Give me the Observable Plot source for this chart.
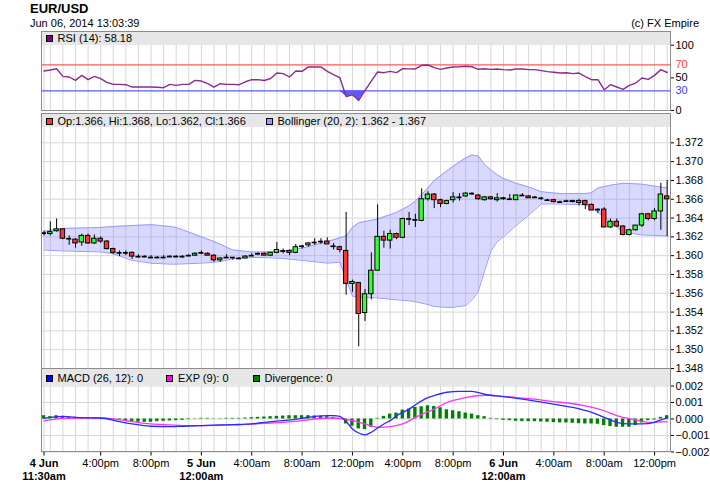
<!DOCTYPE html>
<html><head><meta charset="utf-8">
<script src="https://cdn.jsdelivr.net/npm/d3@7"></script>
<script src="https://cdn.jsdelivr.net/npm/@observablehq/plot@0.6"></script>
<style>
body{margin:0;background:#fff;}
#root{position:relative;width:710px;height:487px;overflow:hidden;font-family:"Liberation Sans",Arial,sans-serif;color:#000;background:#fff;}
#root svg{position:absolute;left:0;top:0;z-index:1;}
.hdr{position:absolute;background:#e6e6e6;z-index:0;}
.panel{position:absolute;border:1.5px solid #8c8c8c;box-sizing:border-box;z-index:2;}
.txt{position:absolute;white-space:nowrap;z-index:3;font-size:11px;line-height:13px;}
.sw{display:inline-block;width:5px;height:5px;border:1px solid #000;margin-right:5px;}
</style></head><body><div id="root"></div>
<script>
// ---------- data ----------
const openP = [1.3624,1.3623,1.3626,1.3628,1.3618,1.3617,1.3614,1.3621,1.3613,1.3618,
1.3615,1.3607,1.3603,1.3603,1.3603,1.3599,1.3599,1.3598,1.3598,1.3598,
1.3599,1.3599,1.3599,1.3600,1.3600,1.3603,1.3602,1.3600,1.3595,1.3598,
1.3598,1.3597,1.3597,1.3600,1.3602,1.3602,1.3600,1.3603,1.3605,1.3605,
1.3603,1.3610,1.3611,1.3614,1.3615,1.3615,1.3610,1.3609,1.3605,1.3570,
1.3571,1.3539,1.3559,1.3584,1.3620,1.3616,1.3623,1.3619,1.3639,1.3638,
1.3637,1.3660,1.3665,1.3659,1.3655,1.3659,1.3662,1.3663,1.3666,1.3664,
1.3659,1.3662,1.3659,1.3661,1.3660,1.3659,1.3664,1.3663,1.3662,1.3661,
1.3659,1.3659,1.3657,1.3658,1.3658,1.3656,1.3658,1.3654,1.3649,1.3649,
1.3630,1.3636,1.3631,1.3622,1.3627,1.3632,1.3644,1.3639,1.3647,1.3663];
const highP = [1.3626,1.3636,1.3639,1.3628,1.3621,1.3618,1.3623,1.3623,1.3622,1.3620,
1.3616,1.3608,1.3605,1.3605,1.3604,1.3601,1.3600,1.3600,1.3599,1.3600,
1.3600,1.3600,1.3600,1.3601,1.3603,1.3605,1.3603,1.3601,1.3598,1.3601,
1.3598,1.3598,1.3600,1.3602,1.3603,1.3603,1.3603,1.3614,1.3607,1.3606,
1.3612,1.3611,1.3614,1.3618,1.3618,1.3619,1.3613,1.3610,1.3646,1.3574,
1.3571,1.3564,1.3603,1.3654,1.3626,1.3627,1.3624,1.3640,1.3646,1.3644,
1.3671,1.3668,1.3666,1.3660,1.3659,1.3667,1.3666,1.3667,1.3667,1.3665,
1.3663,1.3663,1.3666,1.3662,1.3665,1.3664,1.3666,1.3664,1.3663,1.3662,
1.3660,1.3660,1.3658,1.3659,1.3659,1.3660,1.3659,1.3655,1.3650,1.3651,
1.3639,1.3639,1.3632,1.3628,1.3632,1.3645,1.3645,1.3650,1.3677,1.3680];
const lowP = [1.3621,1.3621,1.3625,1.3617,1.3611,1.3608,1.3610,1.3612,1.3612,1.3613,
1.3606,1.3601,1.3599,1.3600,1.3596,1.3597,1.3598,1.3597,1.3597,1.3597,
1.3598,1.3598,1.3597,1.3599,1.3599,1.3601,1.3600,1.3593,1.3593,1.3597,
1.3595,1.3596,1.3597,1.3599,1.3600,1.3600,1.3599,1.3602,1.3602,1.3600,
1.3602,1.3607,1.3609,1.3611,1.3612,1.3612,1.3606,1.3603,1.3558,1.3561,
1.3503,1.3530,1.3553,1.3584,1.3608,1.3607,1.3617,1.3618,1.3632,1.3630,
1.3636,1.3658,1.3650,1.3651,1.3654,1.3656,1.3658,1.3662,1.3664,1.3659,
1.3658,1.3659,1.3657,1.3659,1.3659,1.3659,1.3663,1.3661,1.3661,1.3659,
1.3658,1.3656,1.3656,1.3657,1.3656,1.3653,1.3649,1.3648,1.3645,1.3630,
1.3629,1.3630,1.3621,1.3621,1.3626,1.3630,1.3637,1.3637,1.3627,1.3620];
const closeP = [1.3624,1.3625,1.3628,1.3618,1.3618,1.3613,1.3621,1.3613,1.3618,1.3615,
1.3607,1.3603,1.3603,1.3603,1.3599,1.3599,1.3599,1.3598,1.3598,1.3598,
1.3599,1.3599,1.3599,1.3600,1.3602,1.3603,1.3600,1.3595,1.3597,1.3598,
1.3598,1.3597,1.3599,1.3600,1.3602,1.3600,1.3603,1.3606,1.3605,1.3603,
1.3609,1.3610,1.3613,1.3614,1.3615,1.3612,1.3610,1.3606,1.3570,1.3572,
1.3538,1.3559,1.3584,1.3620,1.3616,1.3623,1.3619,1.3639,1.3639,1.3638,
1.3660,1.3665,1.3659,1.3655,1.3658,1.3662,1.3662,1.3666,1.3666,1.3660,
1.3662,1.3660,1.3661,1.3660,1.3660,1.3664,1.3664,1.3661,1.3662,1.3661,
1.3659,1.3657,1.3657,1.3658,1.3657,1.3658,1.3654,1.3648,1.3649,1.3630,
1.3636,1.3631,1.3622,1.3627,1.3632,1.3644,1.3639,1.3647,1.3665,1.3660];

// Bollinger (20,2) band read at candle indices
const bandIdx   = [0,3,9,11,14,17,20,21,25,27,29,30,33,35,38,41,45,47,48,49,50,53,56,58,59,61,62,64,65,67,68,69,70,71,72,73,75,77,79,82,86,87,88,90,92,95,99];
const bandUpper = [1.3626,1.3629,1.3630,1.3631,1.3632,1.3633,1.3631,1.3630,1.3620,1.3615,1.3609,1.3606,1.3604,1.3604,1.3605,1.3608,1.3615,1.3619,1.3621,1.3630,1.3635,1.3639,1.3646,1.3653,1.3658,1.3672,1.3680,1.3690,1.3695,1.3704,1.3707,1.3706,1.3697,1.3691,1.3686,1.3682,1.3677,1.3673,1.3668,1.3666,1.3666,1.3667,1.3672,1.3675,1.3677,1.3676,1.3672];
const bandLower = [1.3606,1.3605,1.3604,1.3602,1.3595,1.3592,1.3591,1.3591,1.3592,1.3593,1.3595,1.3597,1.3598,1.3598,1.3597,1.3595,1.3592,1.3593,1.3575,1.3557,1.3556,1.3555,1.3553,1.3552,1.3551,1.3548,1.3546,1.3545,1.3545,1.3547,1.3553,1.3562,1.3584,1.3605,1.3615,1.3620,1.3632,1.3643,1.3655,1.3655,1.3654,1.3651,1.3646,1.3636,1.3625,1.3622,1.3621];

// RSI (14), one value per candle
const rsiVals = [60.5,62,64,52.3,51.3,46.2,53.8,47.2,52.3,48.7,
43,40,40,39.5,35.9,35.9,35.9,35.9,35.5,34.9,
40,38.5,40,40,46.2,45.1,41,35.9,41,40,
40,39.5,44,47.2,47.2,46,49,57.4,56.4,51.3,
60.5,60,66.7,66.7,66.7,60,55,50.3,21.5,24.1,
15.4,30.8,45,59,57.9,60,58,64.1,63.8,63.6,
69.2,69.7,65.6,63,65,66.7,67,67.7,67,63.1,
64,63,63.5,62.6,62,63.6,63.6,62.6,62.6,61,
59.5,58.5,57.4,57.9,56.4,57.4,52,47.2,47.2,31.8,
39.5,36,32.3,38.5,42,49.7,47.7,53.8,62.6,58.18];

// MACD (26,12) and EXP (9) lines read at candle indices
const macdIdx = [0,3,6,9,12,14,17,20,22,25,28,30,33,35,38,41,43,45,46,47,48,49,50,51,52,53,54,55,56,57,58,59,60,61,62,64,66,68,70,73,76,80,84,87,89,91,93,95,97,98,99];
const macdVal = [0.00004,0.00016,0.00008,0.00006,-0.00016,-0.0003,-0.00044,-0.00046,-0.00044,-0.0004,-0.00036,-0.00034,-0.0003,-0.0002,-0.0001,0.00004,0.00016,0.0002,0.0002,0.00016,-0.00015,-0.0006,-0.00085,-0.00096,-0.0008,-0.00055,-0.0003,-0.0001,0.0002,0.0004,0.0006,0.00085,0.0011,0.0013,0.00142,0.00162,0.00168,0.00168,0.0015,0.00136,0.0012,0.00096,0.0007,0.0004,0.0001,-0.0002,-0.0003,-0.0003,-0.0002,-0.00005,0.00006];
const expIdx = [0,3,6,9,12,14,17,20,22,25,30,35,38,41,43,46,49,51,53,55,57,59,62,64,67,70,72,75,78,80,86,89,91,94,96,99];
const expVal = [-0.00012,0.00004,0.00006,0.00006,-0.00004,-0.00016,-0.0003,-0.00036,-0.0004,-0.0004,-0.00036,-0.00026,-0.0002,-0.0001,0,0.00006,-0.0001,-0.0003,-0.0005,-0.00046,-0.0003,0.0001,0.0006,0.001,0.0013,0.00144,0.0014,0.0013,0.0012,0.0011,0.0008,0.0005,0.0002,-0.00006,-0.0002,-0.00016];
// Divergence histogram, one value per candle
const divVals = [0.0002,0.00014,0.0002,0.00016,0.0001,0.0001,0.00008,0.00006,0.00006,0.00004,
0.00002,-0.00004,-0.0001,-0.00014,-0.00016,-0.0002,-0.0002,-0.0002,-0.00016,-0.00014,
-0.00012,-0.0001,-0.00008,-0.00004,0.00002,0.00004,0.00004,0.00002,0.00002,0.00004,
0.00004,0.00004,0.00006,0.00008,0.0001,0.00012,0.00014,0.00016,0.00018,0.0002,
0.0002,0.0002,0.0002,0.00018,0.00016,0.00014,0.0001,0.00004,-0.0003,-0.00044,
-0.0006,-0.00064,-0.0005,0.00004,0.00016,0.0003,0.00036,0.00054,0.0006,0.0007,
0.00074,0.0008,0.00076,0.00068,0.00056,0.0005,0.00044,0.00036,0.0003,0.0002,
0.00014,0.00004,-0.00004,-0.00008,-0.0001,-0.00014,-0.00016,-0.00016,-0.00016,-0.00018,
-0.0002,-0.00022,-0.00024,-0.00024,-0.00026,-0.00028,-0.0003,-0.0003,-0.00032,-0.0004,
-0.00046,-0.0005,-0.0005,-0.0005,-0.0004,-0.00024,-0.0001,-0.00006,0.0001,0.0002];

const priceTicks = [1.348,1.350,1.352,1.354,1.356,1.358,1.360,1.362,1.364,1.366,1.368,1.370,1.372];
const macdTicks = [-0.002,-0.001,0,0.001,0.002];
const rsiTicks = [0,50,100];
const xTickTimes = [Date.UTC(2014,5,4,11,30),Date.UTC(2014,5,4,16),Date.UTC(2014,5,4,20),Date.UTC(2014,5,5,0),Date.UTC(2014,5,5,4),Date.UTC(2014,5,5,8),Date.UTC(2014,5,5,12),Date.UTC(2014,5,5,16),Date.UTC(2014,5,5,20),Date.UTC(2014,5,6,0),Date.UTC(2014,5,6,4),Date.UTC(2014,5,6,8),Date.UTC(2014,5,6,12)];
const xTickLabels = ["4 Jun\n11:30am","4:00pm","8:00pm","5 Jun\n12:00am","4:00am","8:00am","12:00pm","4:00pm","8:00pm","6 Jun\n12:00am","4:00am","8:00am","12:00pm"];
const xTickBold = [true,false,false,true,false,false,false,false,false,true,false,false,false];

// ---------- build ----------
const START = Date.UTC(2014,5,4,11,30), STEP = 30*60000, MIN = 60000;
const tOf = i => new Date(START + i*STEP);
const candles = openP.map((o,i)=>({t:tOf(i), o, h:highP[i], l:lowP[i], c:closeP[i]}));
const band = bandIdx.map((k,j)=>({t:tOf(k), up:bandUpper[j], lo:bandLower[j]}));
const rsi = rsiVals.map((v,i)=>({t:tOf(i), v}));
const macd = macdIdx.map((k,j)=>({t:tOf(k), v:macdVal[j]}));
const exp = expIdx.map((k,j)=>({t:tOf(k), v:expVal[j]}));
const div = divVals.map((v,i)=>({t:tOf(i), v}));
const xTicks = xTickTimes.map((t,i)=>({t:new Date(t), s:xTickLabels[i], b:xTickBold[i]}));
const gridT = [new Date(START), ...d3.utcHour.range(new Date(Date.UTC(2014,5,4,12)), new Date(Date.UTC(2014,5,6,13,30)))];

const xScale = {type:"utc", domain:[new Date(Date.UTC(2014,5,4,11,18)), new Date(Date.UTC(2014,5,6,13,16))], label:null};
const FONT = "background:transparent;overflow:visible;font-family:'Liberation Sans',Arial,sans-serif;font-size:11px;";
const common = {width:710, height:487, marginLeft:41, marginRight:40, style:FONT};
const GRID = "#d7d7d7";
const yAx = (ticks, fmt, extra={}) => Plot.axisY({ticks, anchor:"right", tickSize:3, tickPadding:2, tickFormat:fmt, fontSize:11, ...extra});

const root = document.getElementById("root");
function div_(cls, css, html){const d=document.createElement("div");d.className=cls;d.style.cssText=css;if(html!==undefined)d.innerHTML=html;root.appendChild(d);return d;}

// header bands (under svg)
div_("hdr","left:41px;top:31px;width:629px;height:13.5px;");
div_("hdr","left:41px;top:113px;width:629px;height:14px;");
div_("hdr","left:41px;top:368px;width:629px;height:17px;");

// RSI panel
const rsiPlot = Plot.plot({...common, marginTop:44.7, marginBottom:377,
  x:{...xScale, axis:null}, y:{domain:[0,100], label:null},
  marks:[
    Plot.ruleX(gridT,{stroke:GRID}),
    Plot.areaY(rsi,{x:"t", y1:30, y2:d=>Math.min(d.v,30), fill:"#5a5aff"}),
    Plot.ruleY([70],{stroke:"#ff5a5a", strokeWidth:1.2}),
    Plot.ruleY([30],{stroke:"#5a5aff", strokeWidth:1.2}),
    Plot.line(rsi,{x:"t", y:"v", stroke:"#8d2c8d", strokeWidth:1.4}),
    yAx(rsiTicks, d=>String(d)),
    yAx([70], d=>String(d), {fill:"#ff4040", tickSize:0, tickPadding:5}),
    yAx([30], d=>String(d), {fill:"#4040ff", tickSize:0, tickPadding:5})
  ]});
root.appendChild(rsiPlot);

// main price panel
const isDoji = d => d.o === d.c;
const mainPlot = Plot.plot({...common, marginTop:127, marginBottom:119,
  x:{...xScale, axis:null}, y:{domain:[1.348, 1.37363], label:null},
  marks:[
    Plot.ruleX(gridT,{stroke:GRID}),
    Plot.ruleY(priceTicks,{stroke:GRID}),
    Plot.areaY(band,{x:"t", y1:"lo", y2:"up", fill:"#8080ff", fillOpacity:0.3}),
    Plot.line(band,{x:"t", y:"up", stroke:"#9a9aff", strokeWidth:1}),
    Plot.line(band,{x:"t", y:"lo", stroke:"#9a9aff", strokeWidth:1}),
    Plot.ruleX(candles,{x:"t", y1:"l", y2:"h", stroke:"#000", strokeWidth:1}),
    Plot.rect(candles.filter(d=>d.c>d.o),{x1:d=>new Date(+d.t-10.5*MIN), x2:d=>new Date(+d.t+10.5*MIN), y1:"o", y2:"c", fill:"#33ff33", stroke:"#000", strokeWidth:1}),
    Plot.rect(candles.filter(d=>d.c<d.o),{x1:d=>new Date(+d.t-10.5*MIN), x2:d=>new Date(+d.t+10.5*MIN), y1:"o", y2:"c", fill:"#ff3333", stroke:"#000", strokeWidth:1}),
    Plot.ruleY(candles.filter(isDoji),{y:"o", x1:d=>new Date(+d.t-12*MIN), x2:d=>new Date(+d.t+12*MIN), stroke:"#000", strokeWidth:1.7}),
    yAx(priceTicks, d3.format(".3f"))
  ]});
root.appendChild(mainPlot);

// MACD panel
const macdPlot = Plot.plot({...common, marginTop:385, marginBottom:35.5,
  x:{...xScale}, y:{domain:[-0.002, 0.00203], label:null},
  marks:[
    Plot.ruleX(gridT,{stroke:GRID}),
    Plot.ruleY(macdTicks,{stroke:GRID}),
    Plot.rect(div,{x1:d=>new Date(+d.t-8*MIN), x2:d=>new Date(+d.t+8*MIN), y1:0, y2:"v", fill:"#008000"}),
    Plot.line(exp,{x:"t", y:"v", stroke:"#ff33ff", strokeWidth:1.3, curve:"monotone-x"}),
    Plot.line(macd,{x:"t", y:"v", stroke:"#2a2aff", strokeWidth:1.3, curve:"monotone-x"}),
    yAx(macdTicks, d3.format(".3f")),
    Plot.axisX({ticks:xTickTimes.map(t=>new Date(t)), tickSize:4, tickFormat:()=>"", label:null}),
    Plot.text(xTicks.filter(d=>d.b),{x:"t", text:"s", frameAnchor:"bottom", dy:6, lineAnchor:"top", fontWeight:"bold", fontSize:11, lineHeight:1.15}),
    Plot.text(xTicks.filter(d=>!d.b),{x:"t", text:"s", frameAnchor:"bottom", dy:6, lineAnchor:"top", fontSize:11, lineHeight:1.15})
  ]});
root.appendChild(macdPlot);

// panel borders
div_("panel","left:40.5px;top:30.5px;width:630px;height:80px;");
div_("panel","left:40.5px;top:112.5px;width:630px;height:256px;");
div_("panel","left:40.5px;top:368px;width:630px;height:84px;");

// titles
div_("txt","left:30px;top:1px;font-size:13px;line-height:16px;font-weight:bold;","EUR/USD");
div_("txt","left:30px;top:16.5px;","Jun 06, 2014 13:03:39");
div_("txt","right:11px;top:16.5px;","(c) FX Empire");

// legends
const sw = c => `<span class="sw" style="background:${c}"></span>`;
div_("txt","left:45.5px;top:31.8px;", sw("#800080")+"RSI (14): 58.18");
div_("txt","left:45.5px;top:114.8px;", sw("#ff3333")+"Op:1.366, Hi:1.368, Lo:1.362, Cl:1.366");
div_("txt","left:265.5px;top:114.8px;", sw("#9999ff")+"Bollinger (20, 2): 1.362 - 1.367");
div_("txt","left:45.5px;top:372.4px;", sw("#0000ff")+"MACD (26, 12): 0");
div_("txt","left:166px;top:372.4px;", sw("#ff00ff")+"EXP (9): 0");
div_("txt","left:252.5px;top:372.4px;", sw("#008000")+"Divergence: 0");
</script></body></html>
